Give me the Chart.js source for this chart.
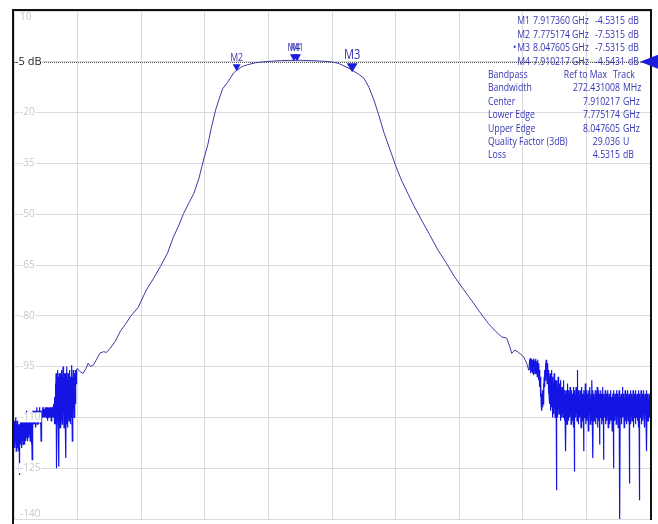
<!DOCTYPE html>
<html lang="en">
<head>
  <meta charset="UTF-8" />
  <title>Bandpass S21</title>
  <script src="https://cdn.jsdelivr.net/npm/chart.js@4"></script>
  <style>
    html, body { margin: 0; padding: 0; background: #fff; }
    #wrap { width: 658px; height: 524px; position: relative; }
  </style>
</head>
<body>
  <div id="wrap"><canvas id="vna"></canvas></div>
  <script>
    // sweep and axis ticks (MHz / dB)
    const startMHz = 7250, stopMHz = 8750;
    const freqGridMHz = [7250, 7400, 7550, 7700, 7850, 8000, 8150, 8300, 8450, 8600, 8750];
    const yTicks = [10, -5, -20, -35, -50, -65, -80, -95, -110, -125, -140];
    const refLevel = -5;

    // smooth part of the trace
    const traceMHz = [7399, 7406, 7413, 7420, 7425, 7430, 7437, 7444, 7453, 7461, 7468, 7477, 7489, 7501, 7513, 7524,
      7543, 7562, 7579, 7595, 7612, 7626, 7638, 7650, 7662, 7674, 7686, 7697, 7707, 7716, 7726, 7733, 7742, 7754,
      7768, 7775.174, 7788, 7800, 7819, 7839, 7860, 7879, 7917.36, 7950, 7974, 7998, 8014, 8028, 8040, 8047.605,
      8062, 8075, 8087, 8099, 8111, 8123, 8137, 8151, 8165, 8179, 8193, 8211, 8230, 8250, 8270, 8289, 8310, 8329,
      8348, 8369, 8386, 8400, 8412, 8419, 8424, 8431, 8440, 8452, 8459, 8464];
    const traceDb = [-95.5, -96.5, -97, -95.5, -94, -95, -94.6, -93, -91, -90.6, -90.8, -89.6, -87.5, -84.5, -82.5, -80.3,
      -77.5, -72.4, -69, -65.5, -61.5, -56.7, -53.5, -49.8, -46.8, -43.9, -39.5, -34, -29.5, -24.2, -19, -16.3, -13, -11,
      -8.3, -7.53, -6.4, -5.9, -5.3, -5, -4.8, -4.65, -4.53, -4.65, -4.8, -5, -5.4, -6.2, -6.9, -7.53,
      -8.6, -9.8, -12.5, -16.3, -21, -26.1, -31, -36, -40.3, -43.9, -47.5, -51.7, -56, -60.6, -64.5, -68.5, -72.2, -75.4,
      -78.8, -82.3, -84.6, -86.2, -86.6, -89, -91.1, -90.1, -90.8, -92.1, -94, -96.1];

    // noise floor below the band (7250 - 7398 MHz, evenly swept)
    const lowNoiseStart = 7250, lowNoiseStop = 7398;
    const lowNoiseDb = [
      -112, -118, -111, -119, -113, -117, -110, -120, -114, -116,
      -111, -119, -113, -118, -112, -120, -114, -127, -112, -117,
      -111, -118, -113, -116, -110, -119, -112, -117, -111, -118,
      -113, -116, -110, -118, -112, -115, -109, -117, -111, -116,
      -108, -115, -110, -117, -109, -114, -111, -116, -110, -113,
      -112, -117, -110, -115, -111, -118, -112, -122.5, -110, -114,
      -108, -112, -109, -111, -108, -112, -110, -111, -108, -113,
      -109, -111, -107, -112, -108, -110, -109, -112, -108, -111,
      -107, -110, -109, -112, -108, -117, -109, -111, -108, -110,
      -107, -109, -108, -110, -107.5, -109, -108, -110, -107, -109,
      -108, -110, -107, -109, -108, -111, -107, -110, -108, -109,
      -107, -110, -108, -109, -107, -110, -108, -111, -107, -109,
      -108, -110, -107, -109, -106, -110, -108, -112, -104, -111,
      -100, -112, -97, -110, -125, -99, -111, -96, -108, -113,
      -98, -124.5, -97, -110, -101, -113, -97, -109, -99, -111,
      -96, -112, -98, -110, -95, -108, -100, -113, -97, -110,
      -99, -111, -97, -122, -98, -112, -95, -108, -100, -113,
      -97, -110, -101, -111, -96, -109, -99, -112, -98, -110,
      -94.6, -108, -97, -117, -98, -111, -96, -107, -99, -110,
      -97, -109, -98, -106, -96, -100, -97, -96];

    // noise floor above the band (8466 - 8750 MHz, evenly swept)
    const highNoiseStart = 8466, highNoiseStop = 8750;
    const highNoiseDb = [
      -93, -96, -92.5, -97, -93.5, -95.5, -92.8, -96.5, -93, -97,
      -94, -96.5, -92.6, -97.5, -93.2, -96, -94, -97, -92.7, -96.8,
      -93.5, -97, -94, -98, -93, -97.5, -95, -99, -94, -98,
      -96, -101, -98, -104, -100, -106, -103, -108, -104, -107,
      -102, -106, -100, -104, -98, -101, -96, -99, -94, -97,
      -93, -98, -95, -100, -94, -99, -96, -103, -97, -104,
      -98, -106, -97, -108, -99, -104, -96, -107, -100, -110,
      -98, -105, -101, -109, -97, -106, -100, -110, -99, -104,
      -102, -131.5, -99, -107, -101, -110, -98, -106, -103, -109,
      -100, -108, -102, -111, -99, -107, -103, -110, -101, -109,
      -103, -110, -99, -108, -104, -111, -102, -109, -103, -120,
      -102, -109, -104, -112, -100, -108, -105, -111, -102, -107,
      -104, -110, -101, -109, -103, -112, -102, -108, -105, -111,
      -103, -109, -101, -113, -104, -126, -102, -108, -105, -110,
      -101, -109, -104, -111, -96, -108, -103, -112, -102, -107,
      -104, -110, -102, -108, -105, -113, -101, -109, -104, -111,
      -103, -108, -105, -120, -102, -110, -104, -109, -100, -112,
      -105, -109, -102, -111, -104, -108, -103, -114, -102, -110,
      -104, -109, -101, -112, -105, -108, -103, -111, -99, -110,
      -102, -122, -104, -109, -103, -111, -105, -108, -102, -112,
      -104, -110, -103, -108, -101, -113, -105, -109, -102, -111,
      -103, -118, -104, -110, -102, -108, -105, -112, -103, -109,
      -101, -111, -104, -122.5, -103, -108, -105, -110, -102, -112,
      -104, -109, -103, -111, -105, -108, -102, -113, -104, -110,
      -103, -112, -105, -109, -102, -111, -104, -108, -106, -114,
      -103, -110, -104, -125, -102, -109, -105, -111, -103, -108,
      -104, -112, -102, -109, -105, -110, -103, -113, -104, -109,
      -102, -111, -140, -108, -104, -110, -103, -112, -105, -109,
      -101, -110, -104, -108, -103, -113, -105, -109, -102, -111,
      -104, -110, -103, -112, -105, -108, -102, -111, -104, -109,
      -103, -129.5, -105, -110, -102, -112, -104, -109, -103, -111,
      -105, -108, -102, -113, -104, -110, -103, -109, -105, -112,
      -102, -110, -104, -108, -103, -111, -105, -109, -102, -113,
      -104, -134.5, -103, -110, -105, -108, -102, -112, -104, -109,
      -103, -111, -105, -109, -102, -110, -104, -113, -103, -108,
      -105, -110, -102, -120, -104, -109, -103, -111, -105, -108,
      -103, -110, -104, -109];

    const markerNames = ['M1', 'M2', 'M3', 'M4'];
    const markerMHz = [7917.360, 7775.174, 8047.605, 7910.217];
    const markerDb = [-4.5315, -7.5315, -7.5315, -4.5431];
    const activeMarker = 'M3';

    const bandLabels = ['Bandpass', 'Bandwidth', 'Center', 'Lower Edge', 'Upper Edge', 'Quality Factor (3dB)', 'Loss'];
    const bandValues = ['Ref to Max', '272.431008', '7.910217', '7.775174', '8.047605', '29.036', '4.5315'];
    const bandUnits = ['Track', 'MHz', 'GHz', 'GHz', 'GHz', 'U', 'dB'];

    const sweep = (a, b, vals) => vals.map((v, i) => ({ x: a + i * (b - a) / (vals.length - 1), y: v }));
    const points = [].concat(
      sweep(lowNoiseStart, lowNoiseStop, lowNoiseDb),
      traceMHz.map((f, i) => ({ x: f, y: traceDb[i] })),
      sweep(highNoiseStart, highNoiseStop, highNoiseDb)
    );
    const inNoise = f => f < lowNoiseStop - 0.5 || f >= highNoiseStart - 0.5;

    const markerBlue = '#1c1cdc';
    const textBlue = '#3434b4';
    const fontName = '"Open Sans", "Noto Sans", sans-serif';

    function tri(ctx, x, y, w, h, dir) {
      ctx.beginPath();
      if (dir === 'down') {
        ctx.moveTo(x, y); ctx.lineTo(x - w / 2, y - h); ctx.lineTo(x + w / 2, y - h);
      } else {
        ctx.moveTo(x, y); ctx.lineTo(x + w, y - h / 2); ctx.lineTo(x + w, y + h / 2);
      }
      ctx.closePath();
      ctx.fill();
    }

    // narrow text, like the analyzer's UI font
    function txt(ctx, s, x, y, align, sx) {
      ctx.save();
      ctx.translate(x, y);
      ctx.scale(sx || 0.86, 1);
      ctx.textAlign = align || 'left';
      ctx.fillText(s, 0, 0);
      ctx.restore();
    }

    const vnaDecor = {
      id: 'vnaDecor',
      beforeDatasetsDraw(chart) {
        const { ctx, chartArea: a, scales: { y } } = chart;
        const ry = Math.round(y.getPixelForValue(refLevel)) + 0.5;
        ctx.save();
        ctx.strokeStyle = '#555';
        ctx.lineWidth = 1;
        ctx.setLineDash([1, 1]);
        ctx.beginPath();
        ctx.moveTo(a.left, ry);
        ctx.lineTo(a.right, ry);
        ctx.stroke();
        ctx.restore();
      },
      afterDraw(chart) {
        const { ctx, chartArea: a, scales: { x, y } } = chart;
        ctx.save();
        // frame
        ctx.strokeStyle = '#111';
        ctx.lineWidth = 2;
        ctx.beginPath();
        ctx.moveTo(a.left - 1, 524);
        ctx.lineTo(a.left - 1, a.top - 1);
        ctx.lineTo(a.right + 1, a.top - 1);
        ctx.lineTo(a.right + 1, a.bottom + 1);
        ctx.stroke();

        // y labels inside the plot
        ctx.textBaseline = 'middle';
        yTicks.forEach(v => {
          let py = y.getPixelForValue(v);
          py = Math.min(Math.max(py, a.top + 6), a.bottom - 5);
          if (v === refLevel) {
            ctx.font = '11px ' + fontName;
            const t = v + ' dB';
            ctx.fillStyle = '#fff';
            ctx.fillRect(a.left + 1, py - 6, ctx.measureText(t).width + 1, 12);
            ctx.fillStyle = '#222';
            ctx.fillText(t, a.left + 1, py);
          } else {
            ctx.font = '10px ' + fontName;
            const t = String(v);
            const w = ctx.measureText(t).width;
            ctx.fillStyle = '#fff';
            ctx.fillRect(a.left + 5, py - 5, w + 2, 10);
            ctx.fillStyle = '#c8c8c8';
            ctx.fillText(t, a.left + 6, py);
          }
        });

        // reference level arrow at the right edge
        ctx.fillStyle = markerBlue;
        tri(ctx, a.right - 10, y.getPixelForValue(refLevel), 18, 14, 'left');

        // markers on the trace
        ctx.textAlign = 'center';
        ctx.textBaseline = 'alphabetic';
        markerNames.forEach((m, i) => {
          const px = x.getPixelForValue(markerMHz[i]);
          const py = y.getPixelForValue(markerDb[i]);
          const big = m === activeMarker;
          ctx.fillStyle = markerBlue;
          tri(ctx, px, py + (big ? 2 : 1), big ? 11 : 8, big ? 9 : 7, 'down');
          ctx.fillStyle = textBlue;
          ctx.font = (big ? '14px ' : '11px ') + fontName;
          txt(ctx, m, px, py - (big ? 11 : 9), 'center', 0.8);
        });

        // marker readout
        ctx.font = '11px ' + fontName;
        ctx.fillStyle = textBlue;
        markerNames.forEach((m, i) => {
          const ty = 24 + i * 13.5;
          txt(ctx, m, 530, ty, 'right', 0.79);
          txt(ctx, (markerMHz[i] / 1000).toFixed(6), 570, ty, 'right', 0.79);
          txt(ctx, 'GHz', 572, ty, 'left', 0.79);
          txt(ctx, markerDb[i].toFixed(4), 625, ty, 'right', 0.79);
          txt(ctx, 'dB', 628, ty, 'left', 0.79);
          if (m === activeMarker) txt(ctx, '\u2022', 513, ty, 'left', 0.79);
        });

        // bandpass search table
        bandLabels.forEach((lab, i) => {
          const ty = 78 + i * 13.4;
          txt(ctx, lab, 488, ty, 'left', 0.79);
          txt(ctx, bandValues[i], i === 0 ? 607 : 620, ty, 'right', 0.79);
          txt(ctx, bandUnits[i], i === 0 ? 613 : 623, ty, 'left', 0.79);
        });
        ctx.restore();
      }
    };

    new Chart(document.getElementById('vna'), {
      type: 'line',
      data: {
        datasets: [{
          label: 'S21',
          data: points,
          borderColor: '#3a3aa6',
          borderWidth: 1,
          pointRadius: 0,
          tension: 0,
          segment: {
            borderColor: c => inNoise(c.p0.parsed.x) ? '#1414e4' : undefined,
            borderWidth: c => inNoise(c.p0.parsed.x) ? 1.2 : undefined
          }
        }]
      },
      options: {
        responsive: true,
        maintainAspectRatio: false,
        animation: false,
        layout: { padding: { left: 14, top: 11, right: 8, bottom: 5 } },
        plugins: { legend: { display: false }, tooltip: { enabled: false } },
        scales: {
          x: {
            type: 'linear',
            min: startMHz,
            max: stopMHz,
            afterBuildTicks: s => { s.ticks = freqGridMHz.map(v => ({ value: v })); },
            ticks: { display: false },
            grid: { color: '#dadada', drawTicks: false },
            border: { display: false }
          },
          y: {
            min: -140,
            max: 10,
            afterBuildTicks: s => { s.ticks = yTicks.map(v => ({ value: v })); },
            ticks: { display: false },
            grid: { color: '#dadada', drawTicks: false },
            border: { display: false }
          }
        }
      },
      plugins: [vnaDecor]
    });
  </script>
</body>
</html>
